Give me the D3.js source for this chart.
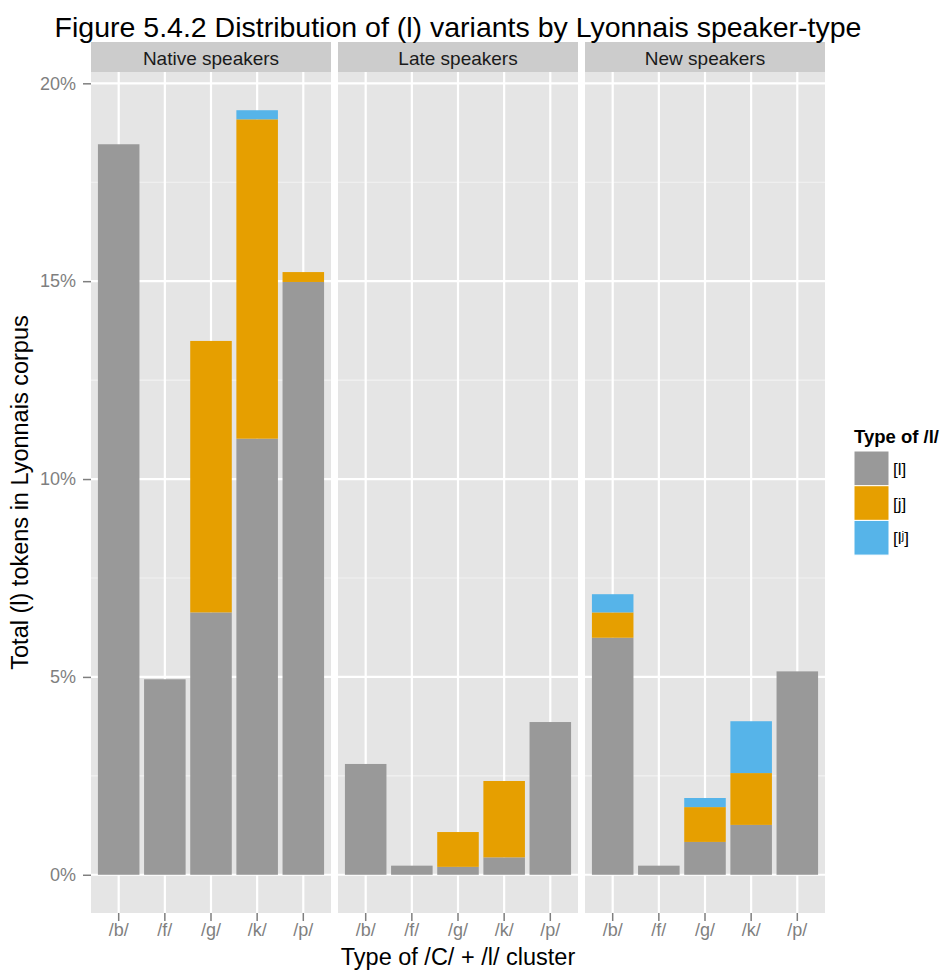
<!DOCTYPE html>
<html>
<head>
<meta charset="utf-8">
<script src="https://cdn.jsdelivr.net/npm/d3@7"></script>
<style>
  body { margin: 0; background: #fff; }
  text { font-family: "Liberation Sans", Arial, sans-serif; }
</style>
</head>
<body>
<div id="chart"></div>
<script>
// values, in percent of all tokens
var speakers = ["Native speakers", "Late speakers", "New speakers"];
var clusters = ["/b/", "/f/", "/g/", "/k/", "/p/"];
var variants = ["[l]", "[j]", "[lʲ]"];
var variantColors = ["#999999", "#E69F00", "#56B4E9"];

// one row per speaker, one value per cluster
var lValues = [
  [18.46, 4.94, 6.63, 11.02, 14.98],
  [2.80, 0.23, 0.20, 0.44, 3.86],
  [5.99, 0.23, 0.83, 1.26, 5.14]
];
var jValues = [
  [0, 0, 6.86, 8.07, 0.25],
  [0, 0, 0.88, 1.93, 0],
  [0.64, 0, 0.88, 1.31, 0]
];
var ljValues = [
  [0, 0, 0, 0.23, 0],
  [0, 0, 0, 0, 0],
  [0.46, 0, 0.23, 1.31, 0]
];
var yTicks = [0, 5, 10, 15, 20];
var yMinor = [2.5, 7.5, 12.5, 17.5];

var W = 944, H = 972;
var panelTop = 72, panelBottom = 913, stripH = 30;
var panelLeft = 91, panelW = 240, gap = 7;

var svg = d3.select("#chart").append("svg")
  .attr("width", W).attr("height", H);

// stack the three variants per bar
var rows = [];
speakers.forEach(function(s, si) {
  clusters.forEach(function(c, ci) {
    var vals = [lValues[si][ci], jValues[si][ci], ljValues[si][ci]];
    var y0 = 0;
    vals.forEach(function(v, vi) {
      rows.push({speaker: si, cluster: c, variant: vi, y0: y0, y1: y0 + v});
      y0 += v;
    });
  });
});

var maxTotal = d3.max(rows, d => d.y1);
var pad = maxTotal * 0.05;
var y = d3.scaleLinear()
  .domain([-pad, maxTotal + pad])
  .range([panelBottom, panelTop]);

// ggplot-style discrete expansion: 0.6 units each side, bars 0.9 wide
var x = d3.scaleBand()
  .domain(clusters)
  .range([0, panelW])
  .paddingInner(0.1)
  .paddingOuter(0.15);

speakers.forEach(function(s, si) {
  var g = svg.append("g")
    .attr("transform", "translate(" + (panelLeft + si * (panelW + gap)) + ",0)");

  g.append("rect")
    .attr("x", 0).attr("y", panelTop)
    .attr("width", panelW).attr("height", panelBottom - panelTop)
    .attr("fill", "#E5E5E5");

  // strip
  g.append("rect")
    .attr("x", 0).attr("y", panelTop - stripH)
    .attr("width", panelW).attr("height", stripH)
    .attr("fill", "#CCCCCC");
  g.append("text")
    .attr("x", panelW / 2).attr("y", 65)
    .attr("text-anchor", "middle")
    .attr("font-size", 19)
    .attr("fill", "#1A1A1A")
    .text(s);

  g.selectAll(".minor").data(yMinor).enter().append("line")
    .attr("x1", 0).attr("x2", panelW)
    .attr("y1", d => y(d)).attr("y2", d => y(d))
    .attr("stroke", "#F2F2F2").attr("stroke-width", 1.2);
  g.selectAll(".major").data(yTicks).enter().append("line")
    .attr("x1", 0).attr("x2", panelW)
    .attr("y1", d => y(d)).attr("y2", d => y(d))
    .attr("stroke", "#FFFFFF").attr("stroke-width", 2.2);
  g.selectAll(".vmajor").data(clusters).enter().append("line")
    .attr("y1", panelTop).attr("y2", panelBottom)
    .attr("x1", d => x(d) + x.bandwidth() / 2)
    .attr("x2", d => x(d) + x.bandwidth() / 2)
    .attr("stroke", "#FFFFFF").attr("stroke-width", 2.2);

  g.selectAll(".bar")
    .data(rows.filter(d => d.speaker === si && d.y1 > d.y0))
    .enter().append("rect")
    .attr("x", d => x(d.cluster))
    .attr("width", x.bandwidth())
    .attr("y", d => y(d.y1))
    .attr("height", d => y(d.y0) - y(d.y1))
    .attr("fill", d => variantColors[d.variant]);

  var xa = g.append("g")
    .attr("transform", "translate(0," + panelBottom + ")")
    .call(d3.axisBottom(x).tickSize(8).tickPadding(2));
  xa.select(".domain").remove();
  xa.selectAll("line").attr("stroke", "#7F7F7F").attr("stroke-width", 1.5);
  xa.selectAll("text").attr("font-size", 18).attr("fill", "#7F7F7F")
    .attr("font-family", "Liberation Sans, Arial, sans-serif");
});

// y axis
var ya = svg.append("g")
  .attr("transform", "translate(" + panelLeft + ",0)")
  .call(d3.axisLeft(y).tickValues(yTicks).tickFormat(d => d + "%").tickSize(8).tickPadding(7));
ya.select(".domain").remove();
ya.selectAll("line").attr("stroke", "#7F7F7F").attr("stroke-width", 1.5);
ya.selectAll("text").attr("font-size", 18).attr("fill", "#7F7F7F")
  .attr("font-family", "Liberation Sans, Arial, sans-serif");

// titles
var plotCenter = panelLeft + (3 * panelW + 2 * gap) / 2;
svg.append("text")
  .attr("x", plotCenter).attr("y", 37)
  .attr("text-anchor", "middle").attr("font-size", 28.5)
  .text("Figure 5.4.2 Distribution of (l) variants by Lyonnais speaker-type");
svg.append("text")
  .attr("x", plotCenter).attr("y", 965)
  .attr("text-anchor", "middle").attr("font-size", 23.5)
  .text("Type of /C/ + /l/ cluster");
svg.append("text")
  .attr("transform", "translate(28," + ((panelTop + panelBottom) / 2) + ") rotate(-90)")
  .attr("text-anchor", "middle").attr("font-size", 23.5)
  .text("Total (l) tokens in Lyonnais corpus");

// legend
var leg = svg.append("g").attr("transform", "translate(854,443)");
leg.append("text")
  .attr("x", 0).attr("y", 0)
  .attr("font-size", 18.5).attr("font-weight", "bold")
  .text("Type of /l/");
variants.forEach(function(v, i) {
  leg.append("rect")
    .attr("x", 0).attr("y", 8 + i * 34.7)
    .attr("width", 35).attr("height", 34.7)
    .attr("fill", variantColors[i])
    .attr("stroke", "#fff").attr("stroke-width", 1);
  leg.append("text")
    .attr("x", 39).attr("y", 8 + i * 34.7 + 24)
    .attr("font-size", 17)
    .text(v);
});
</script>
</body>
</html>
